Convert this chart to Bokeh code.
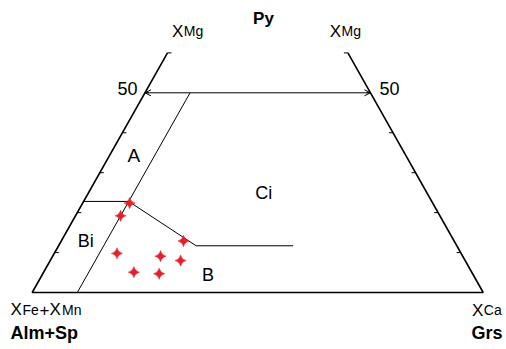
from bokeh.plotting import figure
from bokeh.models import Arrow, OpenHead, Range1d
from bokeh.core.properties import value
from bokeh.embed import file_html
from bokeh.resources import INLINE

# ---- data (mole %, ternary Ca / Mg / Fe+Mn) ----
side_ca = [0, 0, 100, 40]
side_mg = [60, 0, 0, 60]
tick_mg = [10, 20, 30, 40, 50, 60]
mg50 = 50
ca10_ca = [10, 10]
ca10_mg = [0, 50]
bi_ca = [0, 10]
bi_mg = [22.8, 22.8]
b_ca = [10, 30.5, 52]
b_mg = [22.8, 11.7, 11.7]
pts_ca = [10.4, 10.0, 27.1, 13.9, 23.9, 28.9, 20.0, 25.8]
pts_mg = [22.4, 19.2, 12.9, 9.8, 9.1, 8.0, 5.1, 4.7]


def tx(ca, mg):
    return [(c + m / 2) / 100 for c, m in zip(ca, mg)]


def ty(mg):
    return [m / 100 for m in mg]


# pixel helpers for text placement (page pixels -> data)
def px(x):
    return (x - 31.7) / 451


def py(y):
    return (292 - y) / 399.4


FONT = "Liberation Sans"

p = figure(width=506, height=349, output_backend="svg", toolbar_location=None,
           x_axis_type=None, y_axis_type=None, min_border=0,
           x_range=Range1d(px(0), px(506)), y_range=Range1d(py(349), py(0)))
p.outline_line_color = None
p.grid.visible = False
p.background_fill_color = "white"
p.border_fill_color = "white"

# triangle sides
p.line(tx(side_ca, side_mg), ty(side_mg), line_color="black", line_width=1.6)

# ticks
tl = 4 / 451
lx = tx([0] * len(tick_mg), tick_mg)
rx = tx([100 - t for t in tick_mg], tick_mg)
yy = ty(tick_mg)
p.segment(lx, yy, [v + tl for v in lx], yy, line_color="black", line_width=1)
p.segment(rx, yy, [v - tl for v in rx], yy, line_color="black", line_width=1)

# 50 line with arrows
a_x = tx([0, 100 - mg50], [mg50, mg50])
a_y = ty([mg50, mg50])
p.add_layout(Arrow(x_start=a_x[0], y_start=a_y[0], x_end=a_x[1], y_end=a_y[1],
                   start=OpenHead(size=6, line_width=1), end=OpenHead(size=6, line_width=1),
                   line_width=1, line_color="black"))

# field boundaries
p.line(tx(ca10_ca, ca10_mg), ty(ca10_mg), line_color="black", line_width=1)
p.line(tx(bi_ca, bi_mg), ty(bi_mg), line_color="black", line_width=1)
p.line(tx(b_ca, b_mg), ty(b_mg), line_color="black", line_width=1)

# samples
p.scatter(tx(pts_ca, pts_mg), ty(pts_mg), marker="square_pin", size=8, angle=0.785398,
          fill_color="#e3202a", line_color="#e3202a", line_width=0.5)

DY = 6.5  # baseline correction


def txt(x, y, s, size, align="left", bold=False):
    p.text(x=[px(x)], y=[py(y - DY)], text=[s], text_font=value(FONT),
           text_font_size=value(f"{size}px"), text_align=align,
           text_baseline="alphabetic", text_color="black",
           text_font_style="bold" if bold else "normal")


# top labels
txt(263, 24, "Py", 17, "center", True)
txt(171.5, 37.3, "X", 17)
txt(183.3, 37.3, "Mg", 14)
txt(329.3, 37.3, "X", 17)
txt(341, 37.3, "Mg", 14)
txt(137, 94, "50", 18, "right")
txt(379, 94, "50", 18)

# bottom labels
txt(10, 315.7, "X", 17)
txt(22, 315.7, "Fe", 14)
txt(39, 315.7, "+", 17)
txt(49, 315.7, "X", 17)
txt(61.5, 315.7, "Mn", 14)
txt(10, 339, "Alm+Sp", 18, "left", True)
txt(471.5, 316, "X", 17)
txt(483.3, 316, "Ca", 14)
txt(471, 339.3, "Grs", 18, "left", True)

# field labels
txt(133.3, 161.7, "A", 19, "center")
txt(263.3, 199.3, "Ci", 18, "center")
txt(85.2, 246.7, "Bi", 18, "center")
txt(207.5, 281, "B", 18, "center")

open("out.html", "w").write(file_html(p, INLINE))
